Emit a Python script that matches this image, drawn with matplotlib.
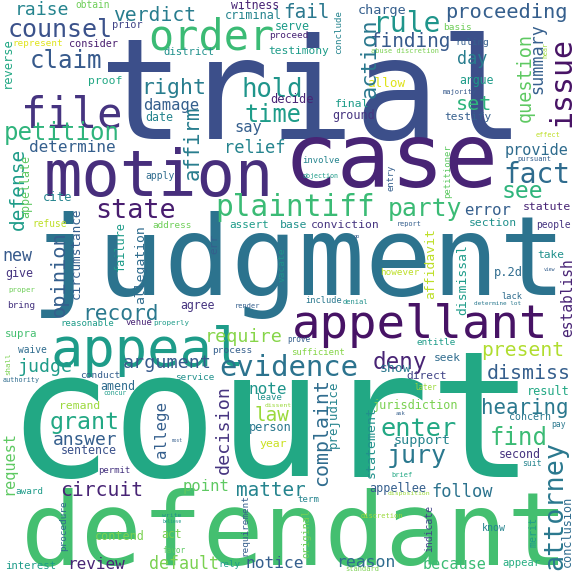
import matplotlib
matplotlib.use("Agg")
import matplotlib.pyplot as plt
from matplotlib import colormaps
from matplotlib.font_manager import FontProperties
from matplotlib.textpath import TextPath

# words of the cloud, in drawing order
words = [
    "trial", "judgment", "court", "defendant", "case", "motion", "appellant", "file",
    "order", "counsel", "raise", "verdict", "obtain", "prior", "represent", "consider",
    "district", "claim", "right", "proof", "damage", "date", "petition", "determine",
    "witness", "fail", "criminal", "serve", "proceed", "testimony", "charge", "finding",
    "rule", "abuse discretion", "hold", "time", "allow", "decide", "final", "ground",
    "say", "relief", "proceeding", "basis", "ruling", "day", "argue", "majority",
    "set", "testify", "effect", "apply", "cite", "state", "refuse", "address",
    "new", "give", "involve", "objection", "plaintiff", "assert", "base", "conviction",
    "go", "provide", "pursuant", "fact", "see", "party", "error", "statute",
    "report", "section", "people", "take", "p.2d", "however", "view", "lack",
    "determine lot", "proper", "bring", "record", "agree", "reasonable", "venue", "properly",
    "supra", "appeal", "waive", "judge", "argument", "authority", "conduct", "service",
    "amend", "concur", "grant", "remand", "include", "denial", "render", "require",
    "prove", "process", "sufficient", "evidence", "deny", "note", "leave", "dissent",
    "law", "person", "jurisdiction", "entitle", "present", "seek", "show", "direct",
    "dismiss", "later", "result", "ask", "hearing", "concern", "enter", "pay",
    "answer", "sentence", "most", "permit", "award", "circuit", "point", "write",
    "believe", "contend", "act", "favor", "interest", "review", "default", "year",
    "matter", "term", "rely", "notice", "reason", "standard", "discretion", "appellee",
    "support", "find", "jury", "second", "suit", "brief", "follow", "disposition",
    "know", "because", "appear",
    # vertical words
    "reverse", "affirm", "action", "conclude", "summary", "question", "issue", "hear",
    "defense", "appellate", "circumstance", "failure", "allegation", "opinion", "err", "vacate",
    "petitioner", "entry", "affidavit", "dismissal", "establish", "decision", "complaint", "prejudice",
    "statement", "request", "allege", "procedure", "requirement", "original", "attorney", "conclusion",
    "indicate", "merit", "shall",
]

# viridis value of each word
shades = [
    .24, .38, .60, .70, .10, .13, .05, .15,
    .68, .25, .45, .42, .78, .20, .95, .08,
    .50, .28, .42, .60, .30, .45, .65, .30,
    .10, .40, .45, .55, .10, .55, .30, .28,
    .52, .80, .52, .55, .95, .10, .55, .15,
    .30, .45, .30, .78, .30, .42, .55, .28,
    .65, .30, .90, .35, .45, .08, .90, .78,
    .28, .15, .45, .55, .68, .55, .50, .15,
    .30, .35, .30, .35, .65, .68, .30, .10,
    .30, .50, .15, .50, .35, .90, .30, .35,
    .40, .78, .15, .40, .15, .55, .10, .55,
    .70, .55, .35, .55, .28, .35, .30, .50,
    .35, .55, .60, .85, .40, .50, .30, .82,
    .30, .30, .82, .38, .10, .52, .50, .85,
    .85, .40, .80, .55, .88, .35, .40, .20,
    .30, .85, .60, .30, .40, .40, .60, .40,
    .30, .25, .30, .15, .55, .10, .75, .50,
    .55, .80, .80, .75, .55, .10, .80, .92,
    .45, .45, .55, .30, .35, .80, .85, .30,
    .45, .68, .40, .15, .45, .60, .38, .85,
    .45, .68, .62,
    .60, .42, .40, .45, .30, .75, .05, .85,
    .55, .75, .30, .55, .35, .30, .30, .50,
    .75, .30, .90, .55, .10, .15, .35, .45,
    .50, .75, .30, .35, .30, .78, .40, .35,
    .20, .55, .80,
]

# layout: start and end along the reading direction, centre of the x-height band, rotation
layout = [
    (100, 524, 100, 0), (28, 570, 265, 0), (10, 531, 429, 0), (15, 575, 537, 0),
    (285, 497, 163, 0), (42, 275, 179, 0), (289, 551, 325, 0), (22, 122, 116, 0),
    (147, 275, 38, 0), (7, 113, 30, 0), (15, 68, 10, 0), (113, 197, 16, 0),
    (75, 110, 5, 0), (112, 143, 25, 0), (13, 63, 43, 0), (68, 118, 44, 0),
    (163, 215, 52, 0), (30, 103, 61, 0), (143, 205, 88, 0), (88, 122, 81, 0),
    (143, 200, 106, 0), (145, 173, 118, 0), (3, 120, 133, 0), (28, 117, 148, 0),
    (230, 280, 6, 0), (284, 329, 13, 0), (225, 282, 16, 0), (275, 310, 27, 0),
    (269, 309, 35, 0), (267, 330, 51, 0), (358, 407, 10, 0), (369, 451, 42, 0),
    (375, 439, 24, 0), (370, 440, 51, 0), (242, 302, 90, 0), (245, 302, 116, 0),
    (367, 406, 84, 0), (270, 314, 100, 0), (335, 369, 104, 0), (332, 375, 116, 0),
    (235, 262, 128, 0), (225, 285, 148, 0), (444, 569, 12, 0), (444, 472, 27, 0),
    (456, 489, 42, 0), (457, 487, 59, 0), (459, 494, 81, 0), (442, 477, 92, 0),
    (457, 491, 104, 0), (444, 492, 117, 0), (536, 561, 135, 0), (145, 175, 176, 0),
    (43, 72, 198, 0), (95, 175, 211, 0), (33, 67, 224, 0), (152, 192, 225, 0),
    (2, 32, 256, 0), (5, 33, 274, 0), (302, 340, 161, 0), (302, 339, 176, 0),
    (214, 377, 208, 0), (229, 269, 225, 0), (280, 307, 225, 0), (310, 380, 225, 0),
    (354, 360, 237, 0), (504, 569, 151, 0), (517, 551, 159, 0), (504, 569, 175, 0),
    (502, 542, 192, 0), (387, 462, 209, 0), (464, 512, 211, 0), (522, 571, 207, 0),
    (397, 421, 224, 0), (469, 517, 223, 0), (536, 571, 225, 0), (537, 564, 255, 0),
    (494, 522, 273, 0), (380, 420, 272, 0), (544, 556, 270, 0), (501, 522, 297, 0),
    (474, 522, 303, 0), (8, 35, 290, 0), (7, 35, 305, 0), (83, 158, 314, 0),
    (180, 215, 306, 0), (60, 115, 324, 0), (125, 152, 323, 0), (153, 190, 323, 0),
    (5, 37, 334, 0), (50, 245, 351, 0), (17, 47, 350, 0), (17, 72, 367, 0),
    (122, 212, 363, 0), (2, 40, 380, 0), (80, 120, 375, 0), (175, 215, 377, 0),
    (100, 135, 387, 0), (103, 127, 393, 0), (50, 120, 423, 0), (60, 100, 406, 0),
    (305, 342, 301, 0), (342, 368, 302, 0), (235, 260, 306, 0), (205, 282, 337, 0),
    (287, 310, 340, 0), (212, 252, 350, 0), (290, 345, 353, 0), (217, 360, 368, 0),
    (372, 427, 363, 0), (249, 287, 390, 0), (255, 282, 398, 0), (265, 292, 405, 0),
    (254, 289, 416, 0), (249, 292, 428, 0), (372, 460, 406, 0), (416, 456, 342, 0),
    (481, 564, 351, 0), (434, 461, 358, 0), (379, 411, 368, 0), (406, 447, 376, 0),
    (486, 571, 374, 0), (414, 437, 388, 0), (527, 569, 392, 0), (396, 406, 413, 0),
    (481, 569, 408, 0), (509, 551, 417, 0), (380, 458, 429, 0), (552, 566, 425, 0),
    (52, 118, 440, 0), (60, 117, 451, 0), (172, 183, 441, 0), (98, 130, 471, 0),
    (15, 43, 491, 0), (60, 143, 491, 0), (183, 229, 487, 0), (162, 182, 515, 0),
    (162, 182, 522, 0), (95, 145, 537, 0), (162, 182, 535, 0), (162, 185, 551, 0),
    (5, 57, 566, 0), (67, 125, 565, 0), (148, 219, 564, 0), (259, 287, 444, 0),
    (235, 307, 491, 0), (297, 319, 500, 0), (219, 240, 565, 0), (245, 304, 564, 0),
    (337, 395, 562, 0), (345, 379, 569, 0), (360, 404, 516, 0), (369, 427, 489, 0),
    (394, 451, 440, 0), (491, 547, 438, 0), (387, 447, 456, 0), (499, 541, 455, 0),
    (522, 541, 464, 0), (391, 412, 475, 0), (431, 494, 492, 0), (387, 431, 493, 0),
    (482, 506, 528, 0), (422, 487, 565, 0), (502, 541, 563, 0),
    # vertical: (y start, y end, x of x-height centre, 90)
    (37, 88, 8, 90), (105, 181, 193, 90), (18, 98, 370, 90), (10, 55, 339, 90),
    (23, 95, 538, 90), (32, 123, 526, 90), (37, 127, 562, 90), (42, 58, 546, 90),
    (147, 231, 19, 90), (154, 219, 26, 90), (206, 300, 76, 90), (221, 272, 121, 90),
    (224, 305, 141, 90), (231, 318, 59, 90), (234, 254, 214, 90), (247, 282, 282, 90),
    (144, 199, 448, 90), (164, 191, 391, 90), (228, 300, 431, 90), (244, 316, 463, 90),
    (257, 338, 568, 90), (385, 475, 224, 90), (378, 487, 322, 90), (380, 449, 333, 90),
    (405, 478, 371, 90), (432, 495, 9, 90), (401, 459, 162, 90), (500, 552, 64, 90),
    (494, 557, 245, 90), (509, 559, 307, 90), (439, 572, 555, 90), (495, 567, 568, 90),
    (504, 552, 429, 90), (517, 547, 534, 90), (353, 375, 8, 90),
]

FONT = "DejaVu Sans Mono"
X_HEIGHT = 0.547
SHRINK = 0.95   # the reference glyphs are a little wider than DejaVu's
DPI = 100


def ink_width(word):
    # ink width of the word for a 1 px font
    ext = TextPath((0, 0), word, size=100, prop=FontProperties(family=FONT)).get_extents()
    return ext.width / 100.0


fig = plt.figure(figsize=(5.76, 5.76), dpi=DPI)
ax = fig.add_axes([0, 0, 1, 1])
ax.set_xlim(0, 576)
ax.set_ylim(576, 0)
ax.axis("off")
cmap = colormaps["viridis"]

for word, (a0, a1, c, rot), shade in zip(words, layout, shades):
    em = SHRINK * (a1 - a0) / ink_width(word)
    base = c + X_HEIGHT * em / 2
    mid = (a0 + a1) / 2
    xy = (mid, base) if rot == 0 else (base, mid)
    ax.text(xy[0], xy[1], word, family=FONT, fontsize=em * 72 / DPI,
            rotation=rot, rotation_mode="anchor", ha="center", va="baseline",
            color=cmap(shade))

fig.savefig("out.png", dpi=DPI, facecolor="white")
